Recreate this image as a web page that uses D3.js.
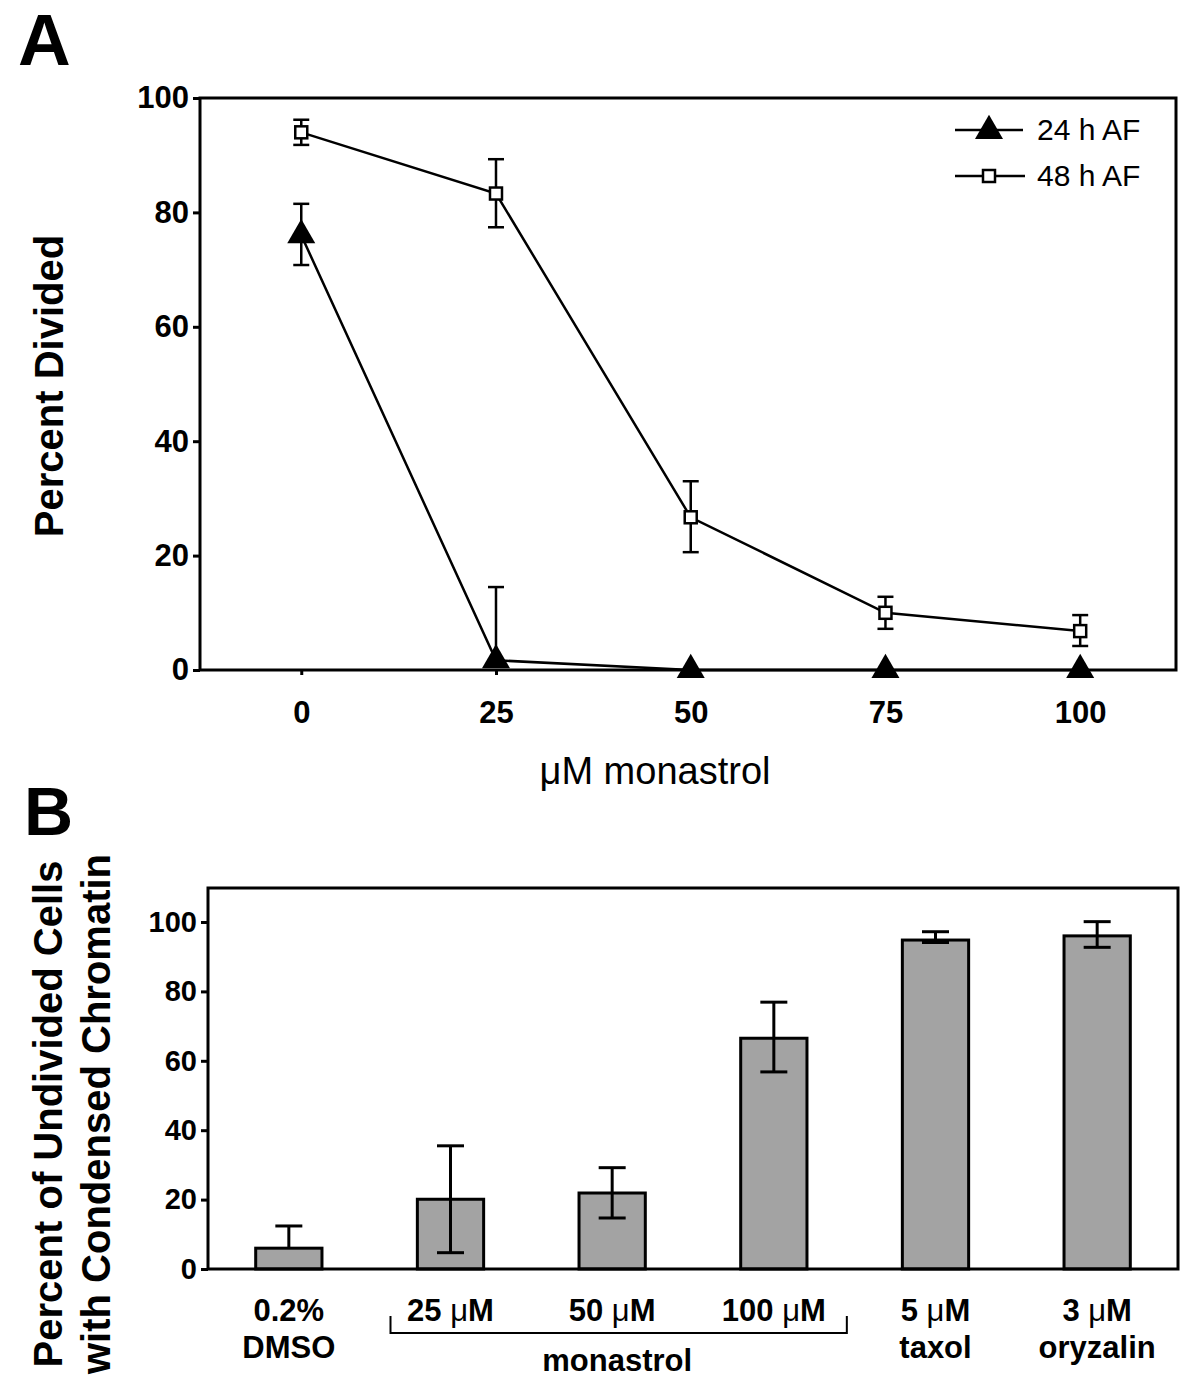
<!DOCTYPE html>
<html lang="en">
<head>
<meta charset="utf-8">
<style>
  body { margin: 0; background: #fff; }
  svg { display: block; font-family: "Liberation Sans", Arial, sans-serif; }
  .tick line { stroke: #000; stroke-width: 3; }
  .tick text { font-weight: bold; fill: #000; }
</style>
</head>
<body>
<svg width="1200" height="1377"></svg>
<script src="https://cdn.jsdelivr.net/npm/d3@7/dist/d3.min.js"></script>
<script>
// ---- panel A data (percent divided vs monastrol dose) ----
var doses = [0, 25, 50, 75, 100];
var h24Mean = [76, 1.7, 0, 0, 0];
var h24Low  = [70.8, null, null, null, null];
var h24High = [81.5, 14.5, null, null, null];
var h48Mean = [94, 83.3, 26.7, 10, 6.8];
var h48Low  = [91.8, 77.4, 20.6, 7.2, 4.2];
var h48High = [96.2, 89.3, 33, 12.8, 9.6];
var yTicksA = [0, 20, 40, 60, 80, 100];

// ---- panel B data (undivided cells with condensed chromatin) ----
var treatLine1 = ["0.2%", "25 \u03bcM", "50 \u03bcM", "100 \u03bcM", "5 \u03bcM", "3 \u03bcM"];
var treatLine2 = ["DMSO", "", "", "", "taxol", "oryzalin"];
var condMean = [6, 20.1, 21.9, 66.5, 94.8, 96];
var condLow  = [null, 4.7, 14.7, 56.8, 94.1, 92.7];
var condHigh = [12.4, 35.5, 29.2, 76.9, 97.2, 100.1];
var yTicksB = [0, 20, 40, 60, 80, 100];

var svg = d3.select("svg");
svg.append("rect").attr("width", 1200).attr("height", 1377).attr("fill", "#fff");

// helper: write a label that has a non-bold mu
function muText(sel, s) {
    var parts = s.split("\u03bc");
    sel.text(null);
    sel.append("tspan").text(parts[0]);
    if (parts.length > 1) {
        sel.append("tspan").attr("font-weight", "normal").text("\u03bc");
        sel.append("tspan").text(parts[1]);
    }
}

/* ================= panel A ================= */
var A = { left: 200, right: 1176, top: 98, bottom: 670 };
var xA = d3.scaleLinear().domain([-13, 112.3]).range([A.left, A.right]);
var yA = d3.scaleLinear().domain([0, 100]).range([A.bottom, A.top]);

svg.append("text").attr("x", 18).attr("y", 65)
    .attr("font-size", 73).attr("font-weight", "bold").text("A");

var gA = svg.append("g");

gA.append("g")
    .attr("transform", "translate(" + A.left + ",0)")
    .call(d3.axisLeft(yA).tickValues(yTicksA).tickSize(7).tickPadding(4).tickFormat(d3.format("d")))
    .call(function(g) { g.select(".domain").remove(); })
    .selectAll("text").attr("font-size", 31);

gA.append("g")
    .attr("transform", "translate(0," + A.bottom + ")")
    .call(d3.axisBottom(xA).tickValues(doses).tickSize(5).tickPadding(26).tickFormat(d3.format("d")))
    .call(function(g) { g.select(".domain").remove(); })
    .selectAll("text").attr("font-size", 31);

gA.append("rect")
    .attr("x", A.left).attr("y", A.top)
    .attr("width", A.right - A.left).attr("height", A.bottom - A.top)
    .attr("fill", "none").attr("stroke", "#000").attr("stroke-width", 3);

var lineA = d3.line()
    .x(function(d) { return xA(d.x); })
    .y(function(d) { return yA(d.y); });

function seriesA(mean, low, high) {
    return doses.map(function(x, i) {
        return { x: x, y: mean[i], lo: low[i], hi: high[i] };
    });
}
var s24 = seriesA(h24Mean, h24Low, h24High);
var s48 = seriesA(h48Mean, h48Low, h48High);

[s48, s24].forEach(function(s) {
    gA.append("path").datum(s).attr("d", lineA)
        .attr("fill", "none").attr("stroke", "#000").attr("stroke-width", 2.5);
});

function errorBars(g, data, xf, yf, cap, sw) {
    data.forEach(function(d) {
        var cx = xf(d);
        var y0 = d.lo == null ? yf(Math.max(0, d.y)) : yf(d.lo);
        var y1 = d.hi == null ? yf(d.y) : yf(d.hi);
        if (d.lo == null && d.hi == null) return;
        g.append("line").attr("x1", cx).attr("x2", cx).attr("y1", y0).attr("y2", y1)
            .attr("stroke", "#000").attr("stroke-width", sw);
        [d.lo, d.hi].forEach(function(v) {
            if (v == null) return;
            g.append("line").attr("x1", cx - cap / 2).attr("x2", cx + cap / 2)
                .attr("y1", yf(v)).attr("y2", yf(v))
                .attr("stroke", "#000").attr("stroke-width", sw);
        });
    });
}

errorBars(gA, s48, function(d) { return xA(d.x); }, yA, 16, 2.5);
errorBars(gA, s24, function(d) { return xA(d.x); }, yA, 16, 2.5);

var tri = d3.symbol().type(d3.symbolTriangle).size(340);

gA.selectAll(".sq").data(s48).enter().append("rect")
    .attr("x", function(d) { return xA(d.x) - 6; })
    .attr("y", function(d) { return yA(d.y) - 6; })
    .attr("width", 12).attr("height", 12)
    .attr("fill", "#fff").attr("stroke", "#000").attr("stroke-width", 2.5);

gA.selectAll(".tri").data(s24).enter().append("path")
    .attr("d", tri)
    .attr("transform", function(d) { return "translate(" + xA(d.x) + "," + yA(d.y) + ")"; })
    .attr("fill", "#000");

// legend
var leg = gA.append("g");
leg.append("line").attr("x1", 955).attr("x2", 1023).attr("y1", 130).attr("y2", 130)
    .attr("stroke", "#000").attr("stroke-width", 2.5);
leg.append("path").attr("d", tri).attr("transform", "translate(989,131)").attr("fill", "#000");
leg.append("text").attr("x", 1037).attr("y", 140).attr("font-size", 30).text("24 h AF");
leg.append("line").attr("x1", 955).attr("x2", 1025).attr("y1", 176).attr("y2", 176)
    .attr("stroke", "#000").attr("stroke-width", 2.5);
leg.append("rect").attr("x", 983).attr("y", 170).attr("width", 12).attr("height", 12)
    .attr("fill", "#fff").attr("stroke", "#000").attr("stroke-width", 2.5);
leg.append("text").attr("x", 1037).attr("y", 186).attr("font-size", 30).text("48 h AF");

svg.append("text")
    .attr("transform", "translate(63,386) rotate(-90)")
    .attr("text-anchor", "middle").attr("font-size", 40).attr("font-weight", "bold")
    .text("Percent Divided");

svg.append("text")
    .attr("x", 655).attr("y", 784).attr("text-anchor", "middle").attr("font-size", 38)
    .text("\u03bcM monastrol");

/* ================= panel B ================= */
var B = { left: 208, right: 1178, top: 888, bottom: 1269 };
var xB = d3.scaleBand().domain(treatLine1).range([B.left, B.right])
    .paddingInner(0.59).paddingOuter(0.295);
var yB = d3.scaleLinear().domain([0, 100]).range([B.bottom, 922]);

svg.append("text").attr("x", 24).attr("y", 835)
    .attr("font-size", 68).attr("font-weight", "bold").text("B");

var gB = svg.append("g");

gB.append("g")
    .attr("transform", "translate(" + B.left + ",0)")
    .call(d3.axisLeft(yB).tickValues(yTicksB).tickSize(7).tickPadding(4).tickFormat(d3.format("d")))
    .call(function(g) { g.select(".domain").remove(); })
    .selectAll("text").attr("font-size", 29);

var condData = treatLine1.map(function(c, i) {
    return { c: c, y: condMean[i], lo: condLow[i], hi: condHigh[i] };
});

gB.selectAll(".bar").data(condData).enter().append("rect")
    .attr("class", "bar")
    .attr("x", function(d) { return xB(d.c); })
    .attr("y", function(d) { return yB(d.y); })
    .attr("width", xB.bandwidth())
    .attr("height", function(d) { return B.bottom - yB(d.y); })
    .attr("fill", "#a3a3a3").attr("stroke", "#000").attr("stroke-width", 3);

errorBars(gB, condData, function(d) { return xB(d.c) + xB.bandwidth() / 2; }, yB, 27, 3);

gB.append("rect")
    .attr("x", B.left).attr("y", B.top)
    .attr("width", B.right - B.left).attr("height", B.bottom - B.top)
    .attr("fill", "none").attr("stroke", "#000").attr("stroke-width", 3);

// category labels
treatLine1.forEach(function(c, i) {
    var cx = xB(c) + xB.bandwidth() / 2;
    var t = gB.append("text").attr("x", cx).attr("y", 1321)
        .attr("text-anchor", "middle").attr("font-size", 31).attr("font-weight", "bold");
    muText(t, c);
    if (treatLine2[i]) {
        gB.append("text").attr("x", cx).attr("y", 1358)
            .attr("text-anchor", "middle").attr("font-size", 31).attr("font-weight", "bold")
            .text(treatLine2[i]);
    }
});

// monastrol bracket
var bx0 = xB(treatLine1[1]) + xB.bandwidth() / 2 - 60;
var bx1 = xB(treatLine1[3]) + xB.bandwidth() / 2 + 73;
gB.append("path")
    .attr("d", "M" + bx0 + ",1316V1333H" + bx1 + "V1316")
    .attr("fill", "none").attr("stroke", "#000").attr("stroke-width", 2);
gB.append("text").attr("x", xB(treatLine1[2]) + xB.bandwidth() / 2 + 5).attr("y", 1371)
    .attr("text-anchor", "middle").attr("font-size", 31).attr("font-weight", "bold")
    .text("monastrol");

var yl = svg.append("text")
    .attr("transform", "translate(62,1114) rotate(-90)")
    .attr("text-anchor", "middle").attr("font-size", 40).attr("font-weight", "bold");
yl.append("tspan").attr("x", 0).attr("y", 0).text("Percent of Undivided Cells");
yl.append("tspan").attr("x", 0).attr("y", 48).text("with Condensed Chromatin");
</script>
</body>
</html>
